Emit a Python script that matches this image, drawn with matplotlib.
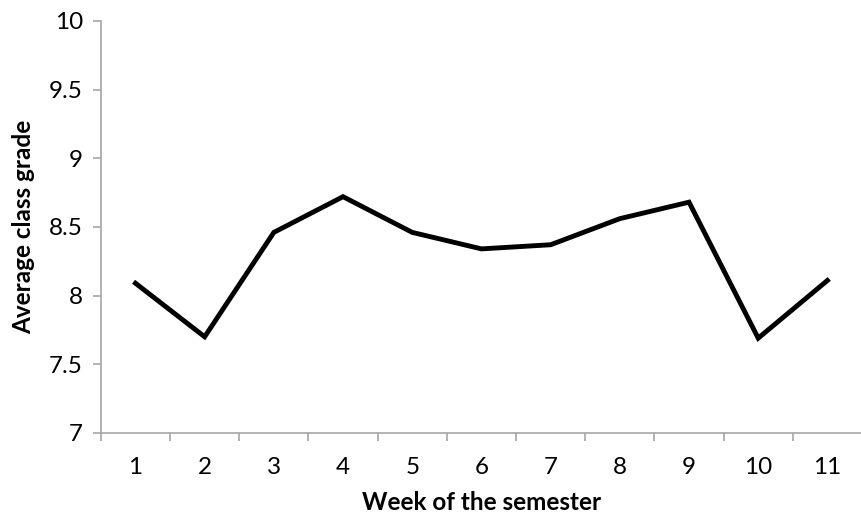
import matplotlib
matplotlib.use("Agg")
import matplotlib.pyplot as plt
from matplotlib.ticker import FixedLocator

weeks = [1, 2, 3, 4, 5, 6, 7, 8, 9, 10, 11]
grades = [8.09, 7.70, 8.46, 8.72, 8.46, 8.34, 8.37, 8.56, 8.68, 7.69, 8.11]
y_ticks = [7, 7.5, 8, 8.5, 9, 9.5, 10]
y_labels = ["7", "7.5", "8", "8.5", "9", "9.5", "10"]

plt.rcParams['font.family'] = ['Lato', 'DejaVu Sans']

fig = plt.figure(figsize=(8.62, 5.21), dpi=100)
ax = fig.add_axes([0.117, 0.169, 0.883, 0.791])

ax.plot(weeks, grades, color='black', linewidth=3.5, solid_joinstyle='miter')

ax.set_xlim(0.5, 11.5)
ax.set_ylim(7, 10)

# category labels sit between the tick marks
ax.xaxis.set_major_locator(FixedLocator(weeks))
ax.xaxis.set_minor_locator(FixedLocator([w + 0.5 for w in [0] + weeks]))
ax.tick_params(axis='x', which='major', length=0, pad=17, labelsize=17.5)
ax.tick_params(axis='x', which='minor', length=6, width=1.2, color='#A6A6A6', direction='out')

ax.set_yticks(y_ticks)
ax.set_yticklabels(y_labels)
ax.tick_params(axis='y', length=6, width=1.2, color='#A6A6A6', direction='out', pad=7, labelsize=17.5)

for side in ['top', 'right']:
    ax.spines[side].set_visible(False)
for side in ['left', 'bottom']:
    ax.spines[side].set_color('#A6A6A6')
    ax.spines[side].set_linewidth(1.2)

ax.set_xlabel("Week of the semester", fontsize=17.5, fontweight='bold', labelpad=10)
ax.set_ylabel("Average class grade", fontsize=17.5, fontweight='bold', labelpad=10)

fig.savefig("out.png", dpi=100)
